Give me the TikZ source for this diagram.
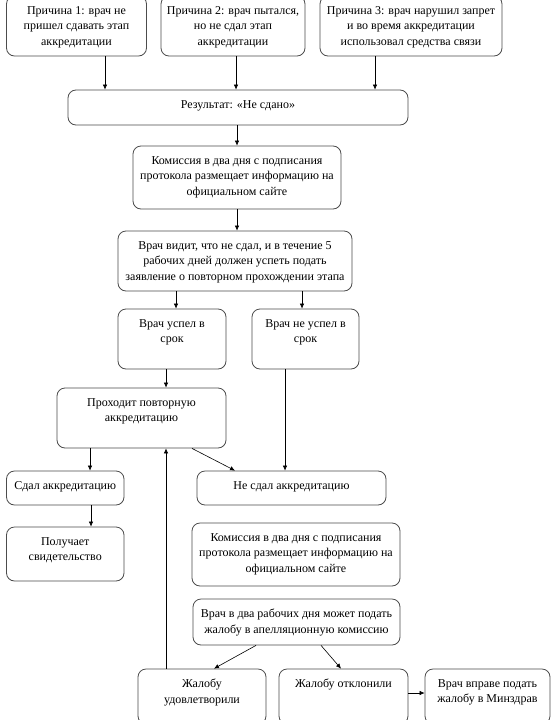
\documentclass[tikz,border=0pt]{standalone}
\usepackage{fontspec}
\setmainfont{Liberation Serif}
\usetikzlibrary{arrows.meta}
\tikzset{
  box/.style={draw=black!70, line width=0.8pt, rounded corners=8pt, inner sep=0pt},
  txt/.style={align=center, inner sep=0pt, anchor=north, font=\fontsize{12pt}{15.5pt}\selectfont},
  arr/.style={draw=black, line width=0.6pt, -{Latex[length=5pt,width=4.5pt]}},
}
\newcommand\bx[6]{%
  \node[box, minimum width=#4pt-#2pt, minimum height=#5pt-#3pt] (#1) at ({(#2+#4)/2},{(#3+#5)/2}) {};
  \node[txt] (#1t) at ([yshift=-10.5pt]#1.north) {#6};}
\begin{document}
\begin{tikzpicture}[x=1pt,y=-1pt]
\useasboundingbox (0,0) rectangle (551,720);
\fill[white] (0,0) rectangle (551,720);
\bx{b1}{6.5}{-4}{146.5}{56}{Причина 1: врач не\\пришел сдавать этап\\аккредитации}
\bx{b2}{161}{-4}{305}{56}{Причина 2: врач пытался,\\но не сдал этап\\аккредитации}
\bx{b3}{320}{-4}{502}{56}{Причина 3: врач нарушил запрет\\и во время аккредитации\\использовал средства связи}
\bx{res}{68}{90}{408}{125}{Результат: «Не сдано»}
\bx{kom}{133}{146}{341}{209}{Комиссия в два дня с подписания\\протокола размещает информацию на\\официальном сайте}
\bx{vid}{118}{231}{352}{291}{Врач видит, что не сдал, и в течение 5\\рабочих дней должен успеть подать\\заявление о повторном прохождении этапа}
\bx{usp}{118}{309}{226}{369}{Врач успел в\\срок}
\bx{neusp}{252}{309}{359}{369}{Врач не успел в\\срок}
\bx{proh}{57}{388}{226}{448}{Проходит повторную\\аккредитацию}
\bx{sdal}{6.5}{471}{124}{505}{Сдал аккредитацию}
\bx{pol}{6.5}{527}{124}{581}{Получает\\свидетельство}
\bx{nesdal}{197}{471}{386}{505}{Не сдал аккредитацию}
\bx{kom2}{192}{523}{400}{586}{Комиссия в два дня с подписания\\протокола размещает информацию на\\официальном сайте}
\bx{dva}{193}{599}{400}{645}{Врач в два рабочих дня может подать\\жалобу в апелляционную комиссию}
\bx{udov}{138}{669}{266}{724}{Жалобу\\удовлетворили}
\bx{otkl}{279}{669}{408}{724}{Жалобу отклонили}
\bx{vpr}{425}{669}{550}{724}{Врач вправе подать\\жалобу в Минздрав}
% connectors
\draw[arr] (b1.south -| 105,0) -- (res.north -| 105,0);
\draw[arr] (b2.south -| 236,0) -- (res.north -| 236,0);
\draw[arr] (b3.south -| 375,0) -- (res.north -| 375,0);
\draw[arr] (res.south -| 237,0) -- (kom.north -| 237,0);
\draw[arr] (kom.south -| 237,0) -- (vid.north -| 237,0);
\draw[arr] (vid.south -| 176,0) -- (usp.north -| 176,0);
\draw[arr] (vid.south -| 302,0) -- (neusp.north -| 302,0);
\draw[arr] (usp.south -| 166,0) -- (proh.north -| 166,0);
\draw[arr] (proh.south -| 90,0) -- (sdal.north -| 90,0);
\draw[arr] (sdal.south -| 91,0) -- (pol.north -| 91,0);
\draw[arr] (proh.south -| 192,0) -- (nesdal.north -| 235,0);
\draw[arr] (neusp.south -| 285,0) -- (nesdal.north -| 285,0);
\draw[arr] (dva.south -| 256,0) -- (udov.north -| 214,0);
\draw[arr] (dva.south -| 321,0) -- (otkl.north -| 341,0);
\draw[arr] (udov.north -| 166,0) -- (proh.south -| 166,0);
\draw[arr] (otkl.east |- 0,693) -- (vpr.west |- 0,693);
\end{tikzpicture}
\end{document}
